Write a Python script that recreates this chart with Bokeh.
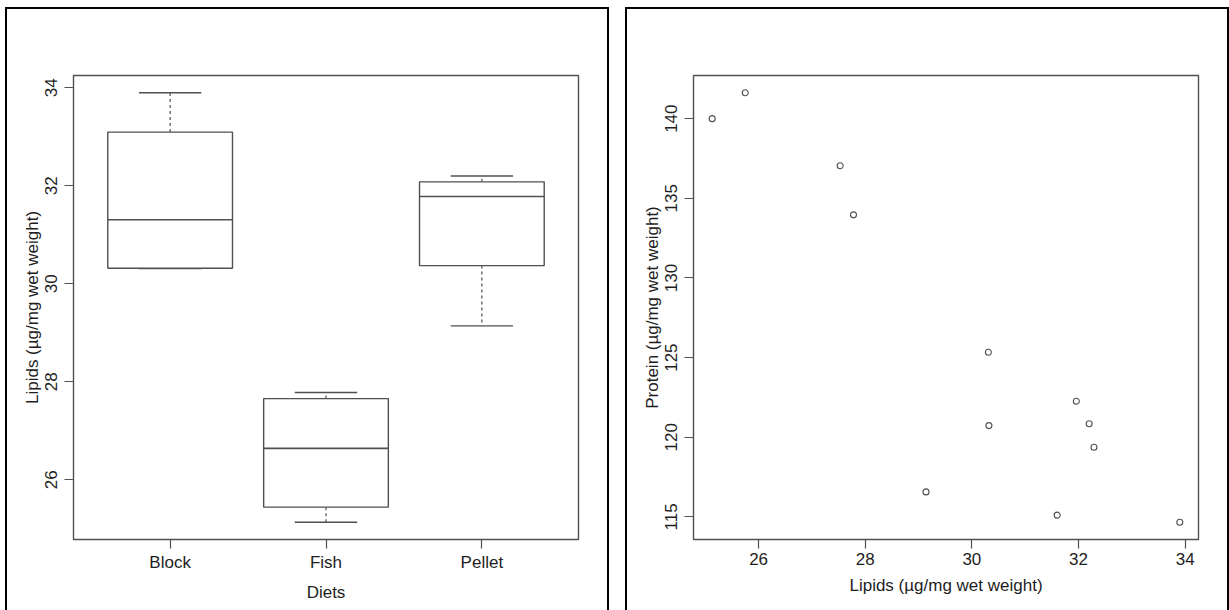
import math
from bokeh.plotting import figure
from bokeh.layouts import row
from bokeh.models import FixedTicker, Range1d
from bokeh.embed import file_html
from bokeh.resources import INLINE

# ---------------- data ----------------
diets = ["Block", "Fish", "Pellet"]

block_lipids = [30.31, 30.32, 32.29, 33.90]
block_protein = [125.34, 120.73, 119.37, 114.66]

fish_lipids = [25.13, 25.75, 27.53, 27.78]
fish_protein = [140.00, 141.63, 137.04, 133.96]

pellet_lipids = [29.14, 31.60, 31.96, 32.20]
pellet_protein = [116.57, 115.11, 122.26, 120.85]

lipid_ticks = [26, 28, 30, 32, 34]
protein_ticks = [115, 120, 125, 130, 135, 140]

ylab_lipids = "Lipids (\u00b5g/mg wet weight)"
ylab_protein = "Protein (\u00b5g/mg wet weight)"
xlab_diets = "Diets"

# ---------------- helpers ----------------
def fivenum(x):
    x = sorted(x)
    n = len(x)
    n4 = math.floor((n + 3) / 2) / 2
    d = [1, n4, (n + 1) / 2, n + 1 - n4, n]
    return [0.5 * (x[math.floor(k) - 1] + x[math.ceil(k) - 1]) for k in d]

def box_stats(x, coef=1.5):
    mn, q1, med, q3, mx = fivenum(x)
    iqr = q3 - q1
    inside = [v for v in x if q1 - coef * iqr <= v <= q3 + coef * iqr]
    return min(inside), q1, med, q3, max(inside)

def padded(lo, hi, f=0.04):
    r = hi - lo
    return lo - f * r, hi + f * r

FONT = "Liberation Sans"
FS = "17px"
TXT = "#1e1e1e"
LN = "#505050"

def make_fig(xr, yr):
    p = figure(width=604, height=603, x_range=Range1d(*xr), y_range=Range1d(*yr),
               output_backend="svg", toolbar_location=None,
               min_border_left=66, min_border_right=33,
               min_border_top=66, min_border_bottom=73)
    p.grid.visible = False
    p.background_fill_color = "white"
    p.border_fill_color = "white"
    p.outline_line_color = LN
    p.outline_line_width = 1.4
    for ax in p.axis:
        ax.axis_line_color = None
        ax.major_tick_line_color = LN
        ax.major_tick_line_width = 1.2
        ax.major_tick_out = 9
        ax.major_tick_in = 0
        ax.minor_tick_line_color = None
        ax.major_label_text_font = FONT
        ax.major_label_text_font_size = FS
        ax.major_label_text_color = TXT
        ax.axis_label_text_font = FONT
        ax.axis_label_text_font_size = FS
        ax.axis_label_text_font_style = "normal"
        ax.axis_label_text_color = TXT
    p.xaxis.major_label_standoff = 4
    p.xaxis.axis_label_standoff = 8
    p.yaxis.major_label_standoff = 7
    p.yaxis.axis_label_standoff = 1
    p.yaxis.major_label_orientation = "vertical"
    p.styles = {"border": "2px solid black", "border-bottom": "none"}
    return p

# ---------------- left: boxplot ----------------
groups = [block_lipids, fish_lipids, pellet_lipids]
all_lip = block_lipids + fish_lipids + pellet_lipids
p1 = make_fig(padded(0.5, 3.5), padded(min(all_lip), max(all_lip)))
p1.xaxis.ticker = FixedTicker(ticks=[1, 2, 3])
p1.xaxis.major_label_overrides = {1: diets[0], 2: diets[1], 3: diets[2]}
p1.yaxis.ticker = FixedTicker(ticks=lipid_ticks)
p1.xaxis.axis_label = xlab_diets
p1.yaxis.axis_label = ylab_lipids

xs = [1, 2, 3]
stats = [box_stats(g) for g in groups]
lo_w = [s[0] for s in stats]
q1s = [s[1] for s in stats]
meds = [s[2] for s in stats]
q3s = [s[3] for s in stats]
hi_w = [s[4] for s in stats]
bw = 0.8
cw = 0.4

# whiskers (dashed)
p1.segment(x0=xs, y0=q3s, x1=xs, y1=hi_w, line_color=LN, line_width=1.2, line_dash="3 3")
p1.segment(x0=xs, y0=q1s, x1=xs, y1=lo_w, line_color=LN, line_width=1.2, line_dash="3 3")
# caps
p1.segment(x0=[x - cw / 2 for x in xs], y0=hi_w, x1=[x + cw / 2 for x in xs], y1=hi_w,
           line_color=LN, line_width=1.4)
p1.segment(x0=[x - cw / 2 for x in xs], y0=lo_w, x1=[x + cw / 2 for x in xs], y1=lo_w,
           line_color=LN, line_width=1.4)
# boxes
p1.quad(left=[x - bw / 2 for x in xs], right=[x + bw / 2 for x in xs], bottom=q1s, top=q3s,
        fill_color="white", line_color=LN, line_width=1.4)
# medians
p1.segment(x0=[x - bw / 2 for x in xs], y0=meds, x1=[x + bw / 2 for x in xs], y1=meds,
           line_color=LN, line_width=1.6)

# ---------------- right: scatter ----------------
all_pro = block_protein + fish_protein + pellet_protein
p2 = make_fig(padded(min(all_lip), max(all_lip)), padded(min(all_pro), max(all_pro)))
p2.xaxis.ticker = FixedTicker(ticks=lipid_ticks)
p2.yaxis.ticker = FixedTicker(ticks=protein_ticks)
p2.xaxis.axis_label = ylab_lipids
p2.yaxis.axis_label = ylab_protein
p2.scatter(x=all_lip, y=all_pro, marker="circle", size=6, fill_color=None,
           line_color=LN, line_width=1.1)

layout = row(p1, p2, spacing=16, margin=(7, 0, 0, 5))
open("out.html", "w").write(file_html(layout, INLINE))
